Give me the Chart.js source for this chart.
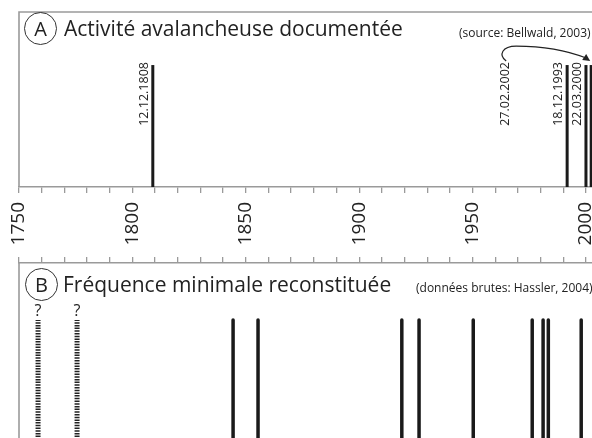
<!DOCTYPE html>
<html>
<head>
<meta charset="utf-8">
<script src="https://cdn.jsdelivr.net/npm/chart.js@4.4.1/dist/chart.umd.min.js"></script>
<style>
  body { margin: 0; background: #fff; }
  #wrap { position: relative; width: 592px; height: 438px; overflow: hidden; background: #fff;
          font-family: "Open Sans", sans-serif; color: #222; }
  #boxA { position: absolute; left: 0; top: 0; width: 654px; height: 250px; }
  #boxB { position: absolute; left: 0; top: 250px; width: 654px; height: 260px; }
  .circ { position: absolute; width: 31px; height: 31px; border: 1px solid #333; border-radius: 50%;
          text-align: center; line-height: 31px; font-size: 20px; }
  .title { position: absolute; font-size: 21px; white-space: nowrap; line-height: 1; }
  .src { position: absolute; font-size: 12px; white-space: nowrap; line-height: 1; }
</style>
</head>
<body>
<div id="wrap">
  <div id="boxA"><canvas id="chartA"></canvas></div>
  <div id="boxB"><canvas id="chartB"></canvas></div>

  <div class="circ" style="left:24px;top:12px;">A</div>
  <div class="title" style="left:64px;top:18px;">Activité avalancheuse documentée</div>
  <div class="src" style="left:459px;top:27px;">(source: Bellwald, 2003)</div>

  <div class="circ" style="left:25px;top:268px;">B</div>
  <div class="title" style="left:63px;top:274px;">Fréquence minimale reconstituée</div>
  <div class="src" style="left:416px;top:282px;">(données brutes: Hassler, 2004)</div>
</div>

<script>
// A : avalanches documentées (année décimale)
const eventsA = [1809.0, 1991.7, 2000.0, 2002.3];
const datesA = ['12.12.1808', '18.12.1993', '22.03.2000', '27.02.2002'];
// B : fréquence minimale reconstituée
const solidB = [1844.4, 1855.4, 1918.8, 1926.4, 1950.3, 1976.3, 1981.1, 1983.4, 1997.9];
const uncertainB = [1758.4, 1775.6];
const yearLabels = [1750, 1800, 1850, 1900, 1950, 2000];

const GREY = '#9a9a9a';
const INK = '#1a1a1a';

function vline(year, opts) {
  return Object.assign({
    data: [{ x: year, y: 0 }, { x: year, y: 1 }],
    borderColor: INK,
    borderWidth: 3,
    pointRadius: 0,
    fill: false,
    tension: 0
  }, opts);
}

// cadre gris (haut + gauche)
const framePlugin = {
  id: 'frame',
  beforeDatasetsDraw(chart, args, o) {
    const a = chart.chartArea, c = chart.ctx;
    c.save();
    c.strokeStyle = GREY;
    c.lineWidth = 1.6;
    c.beginPath();
    c.moveTo(a.left, a.bottom);
    c.lineTo(a.left, a.top);
    if (o.top) c.lineTo(a.right, a.top);
    c.stroke();
    c.restore();
  }
};

const dateLabels = {
  id: 'dateLabels',
  afterDatasetsDraw(chart) {
    const c = chart.ctx, x = chart.scales.x, y = chart.scales.y;
    const yTop = y.getPixelForValue(1);
    c.save();
    c.fillStyle = '#222';
    c.font = '12.5px "Open Sans", sans-serif';
    eventsA.forEach((yr, i) => {
      const bx = x.getPixelForValue(yr);
      let lx = bx - 2;
      const moved = i === eventsA.length - 1;
      if (moved) lx = bx - 79;
      c.save();
      c.translate(lx, yTop - 3);
      c.rotate(-Math.PI / 2);
      c.textAlign = 'right';
      c.textBaseline = 'bottom';
      c.fillText(datesA[i], 0, 0);
      c.restore();
      if (moved) {
        const sx = lx - 6, sy = yTop - 4;
        c.strokeStyle = '#222';
        c.lineWidth = 1.2;
        c.beginPath();
        c.moveTo(sx, sy);
        c.bezierCurveTo(sx - 8, sy - 6, sx - 4, sy - 15, sx + 10, sy - 15);
        c.bezierCurveTo(sx + 40, sy - 15, bx - 25, sy - 11, bx - 5, sy - 3);
        c.stroke();
        c.fillStyle = '#222';
        c.beginPath();
        c.moveTo(bx - 1, sy);
        c.lineTo(bx - 9, sy - 1);
        c.lineTo(bx - 5, sy - 7);
        c.closePath();
        c.fill();
      }
    });
    c.restore();
  }
};

const qLabels = {
  id: 'qLabels',
  afterDatasetsDraw(chart) {
    const c = chart.ctx, x = chart.scales.x, y = chart.scales.y;
    c.save();
    c.fillStyle = '#222';
    c.font = '16px "Open Sans", sans-serif';
    c.textAlign = 'center';
    c.textBaseline = 'bottom';
    uncertainB.forEach(yr => {
      c.fillText('?', x.getPixelForValue(yr), y.getPixelForValue(1) - 1);
    });
    c.restore();
  }
};

function xScale(position, showLabels, height) {
  return {
    type: 'linear',
    position: position,
    min: 1750,
    max: 2030,
    afterFit(s) {
      s.height = height;
      s.paddingLeft = 0;
      s.paddingRight = 0;
    },
    border: { display: true, color: GREY, width: 1.6 },
    grid: { drawOnChartArea: false, color: GREY, lineWidth: 1.3, tickLength: 6 },
    ticks: {
      display: showLabels,
      stepSize: 10,
      autoSkip: false,
      minRotation: 90,
      maxRotation: 90,
      padding: 9,
      color: '#222',
      font: { family: '"Open Sans", sans-serif', size: 19 },
      callback: v => yearLabels.includes(v) ? String(v) : ''
    }
  };
}

const common = {
  responsive: true,
  maintainAspectRatio: false,
  animation: false,
  events: [],
  plugins: { legend: { display: false }, tooltip: { enabled: false } }
};

new Chart(document.getElementById('chartA'), {
  type: 'line',
  data: { datasets: eventsA.map(yr => vline(yr, { borderCapStyle: 'butt' })) },
  options: Object.assign({}, common, {
    layout: { autoPadding: false, padding: { left: 19, top: 12, right: 0, bottom: 0 } },
    plugins: Object.assign({}, common.plugins, { frame: { top: true } }),
    scales: {
      x: xScale('bottom', true, 63),
      y: { display: false, min: 0, max: 1.435 }
    }
  }),
  plugins: [framePlugin, dateLabels]
});

new Chart(document.getElementById('chartB'), {
  type: 'line',
  data: {
    datasets: uncertainB.map(yr => vline(yr, { borderWidth: 5, borderDash: [1.5, 1.2], borderCapStyle: 'butt', borderColor: '#222' }))
      .concat(solidB.map(yr => vline(yr, { borderWidth: 3.5, borderCapStyle: 'round' })))
  },
  options: Object.assign({}, common, {
    layout: { autoPadding: false, padding: { left: 19, top: 0, right: 0, bottom: 0 } },
    plugins: Object.assign({}, common.plugins, { frame: { top: false } }),
    scales: {
      x: xScale('top', false, 13),
      y: { display: false, min: 0, max: 1.3 }
    }
  }),
  plugins: [framePlugin, qLabels]
});
</script>
</body>
</html>
